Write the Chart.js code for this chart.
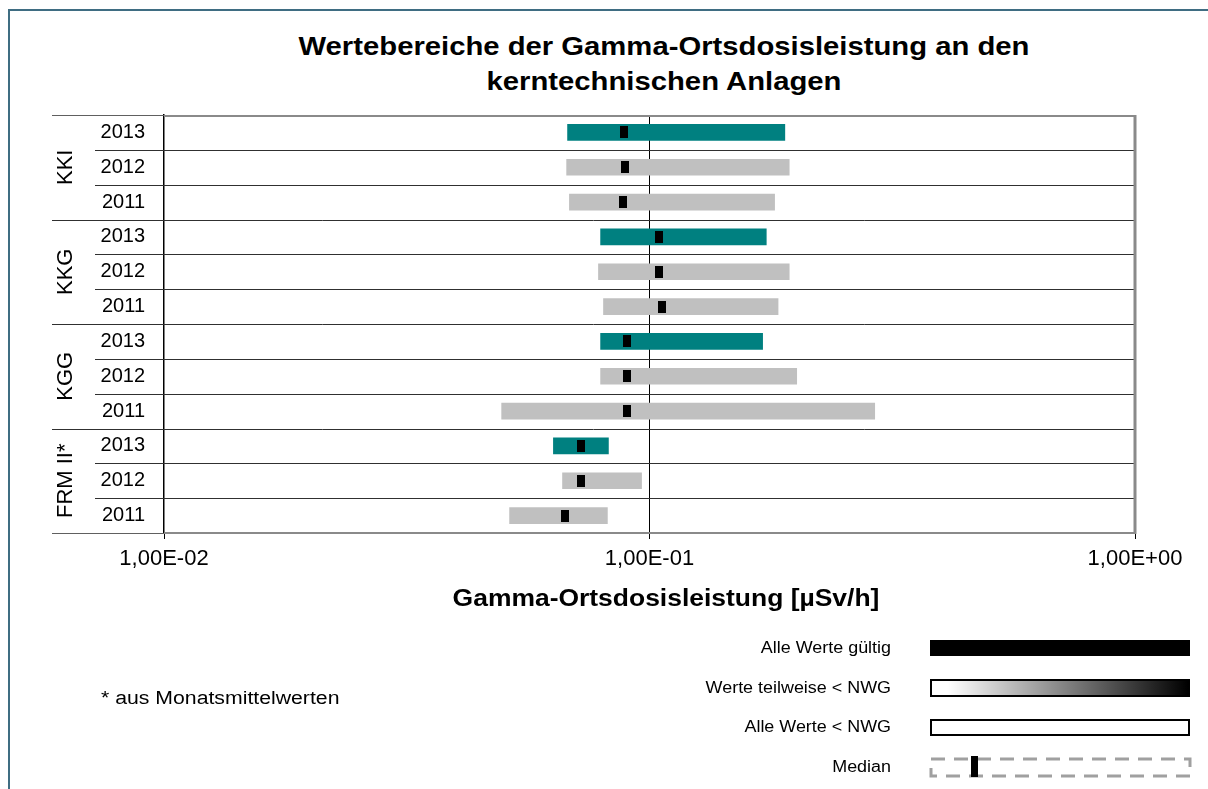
<!DOCTYPE html>
<html>
<head>
<meta charset="utf-8">
<script src="https://cdn.jsdelivr.net/npm/chart.js@4.4.0/dist/chart.umd.min.js"></script>
<style>
  body { margin:0; width:1208px; height:789px; overflow:hidden; background:#fff;
         font-family:"Liberation Sans", Arial, sans-serif; color:#000; position:relative; }
  #frame { position:absolute; left:8px; top:9px; width:1400px; height:1000px; border:2px solid #3f6d82; }
  #wrap { position:absolute; left:0; top:0; width:1208px; height:789px; }
  #title { position:absolute; left:164px; width:1000px; top:29px; text-align:center;
           font-weight:bold; font-size:25px; line-height:35px; transform:scaleX(1.17); transform-origin:500px 0; }
  #xtitle { position:absolute; left:166px; width:1000px; top:584px; text-align:center;
            font-weight:bold; font-size:23px; line-height:28px; transform:scaleX(1.15); transform-origin:500px 0; }
  #note { position:absolute; left:101px; top:687px; font-size:18px; line-height:22px; transform:scaleX(1.18); transform-origin:0 0; }
  .legtxt { position:absolute; left:591px; width:300px; text-align:right; font-size:16px; line-height:20px;
            transform:scaleX(1.12); transform-origin:300px 0; }
  .sw { position:absolute; left:930px; width:260px; box-sizing:border-box; }
</style>
</head>
<body>
<div id="frame"></div>
<div id="title">Wertebereiche der Gamma-Ortsdosisleistung an den<br>kerntechnischen Anlagen</div>
<div id="wrap"><canvas id="myChart"></canvas></div>
<div id="xtitle">Gamma-Ortsdosisleistung [µSv/h]</div>
<div id="note">* aus Monatsmittelwerten</div>

<div class="legtxt" style="top:638px">Alle Werte gültig</div>
<div class="sw" style="top:640px;height:16px;background:#000"></div>
<div class="legtxt" style="top:678px">Werte teilweise &lt; NWG</div>
<div class="sw" style="top:679px;height:18px;border:2px solid #000;background:linear-gradient(to right,#fff 0%,#fff 6%,#000 100%)"></div>
<div class="legtxt" style="top:717px">Alle Werte &lt; NWG</div>
<div class="sw" style="top:719px;height:17px;border:2px solid #000;background:#fff"></div>
<div class="legtxt" style="top:757px">Median</div>
<svg style="position:absolute;left:929px;top:755px" width="264" height="24">
  <rect x="2" y="4" width="259" height="17" fill="none" stroke="#a0a0a0" stroke-width="3" stroke-dasharray="14 9"/>
  <rect x="42" y="1" width="7" height="21" fill="#000"/>
</svg>

<script>
const anlagen = ['KKI', 'KKG', 'KGG', 'FRM II*'];
const jahre = ['2013', '2012', '2011'];

// je Anlage: 2013, 2012, 2011
const minWerte = [0.0678, 0.0675, 0.0684, 0.0793, 0.0785, 0.0804, 0.0793, 0.0793, 0.0496, 0.0634, 0.0662, 0.0515];
const maxWerte = [0.190, 0.194, 0.181, 0.174, 0.194, 0.184, 0.171, 0.201, 0.291, 0.0823, 0.0963, 0.0819];
const medianWerte = [0.0884, 0.0892, 0.0880, 0.1048, 0.1048, 0.1059, 0.0897, 0.0897, 0.0897, 0.0721, 0.0721, 0.0671];

const xTicks = [0.01, 0.1, 1];

const labels = [];
anlagen.forEach(a => jahre.forEach(j => labels.push(j)));

const farben = labels.map(j => j === '2013' ? '#008080' : '#c0c0c0');

function fmtE(v) {
  const e = Math.round(Math.log10(v));
  const m = v / Math.pow(10, e);
  return m.toFixed(2).replace('.', ',') + 'E' + (e < 0 ? '-' : '+') + String(Math.abs(e)).padStart(2, '0');
}

// kleiner schwarzer Balken als Median-Markierung
const medianMarke = document.createElement('canvas');
medianMarke.width = 8;
medianMarke.height = 12;
const mctx = medianMarke.getContext('2d');
mctx.fillStyle = '#000';
mctx.fillRect(0, 0, 8, 12);

const rahmenPlugin = {
  id: 'rahmen',
  beforeDatasetsDraw(chart) {
    const {ctx, chartArea} = chart;
    const ys = chart.scales.y;
    const step = (chartArea.bottom - chartArea.top) / labels.length;
    ctx.save();
    ctx.lineWidth = 1;
    ctx.strokeStyle = '#303030';
    for (let i = 1; i < labels.length; i++) {
      const y = Math.round(chartArea.top + i * step) + 0.5;
      const x0 = (i % 3 === 0) ? 52 : 95;
      ctx.beginPath();
      ctx.moveTo(x0, y);
      ctx.lineTo(chartArea.right, y);
      ctx.stroke();
    }
    // Rahmen oben / unten / rechts
    ctx.strokeStyle = '#606060';
    ctx.beginPath(); ctx.moveTo(52, chartArea.top + 0.5); ctx.lineTo(chartArea.left, chartArea.top + 0.5); ctx.stroke();
    ctx.beginPath(); ctx.moveTo(52, chartArea.bottom + 0.5); ctx.lineTo(chartArea.left, chartArea.bottom + 0.5); ctx.stroke();
    ctx.strokeStyle = '#8a8a8a';
    ctx.lineWidth = 2;
    ctx.beginPath(); ctx.moveTo(chartArea.left, chartArea.top + 1); ctx.lineTo(chartArea.right, chartArea.top + 1); ctx.stroke();
    ctx.beginPath(); ctx.moveTo(chartArea.left, chartArea.bottom); ctx.lineTo(chartArea.right, chartArea.bottom); ctx.stroke();
    ctx.lineWidth = 3;
    ctx.beginPath(); ctx.moveTo(chartArea.right, chartArea.top); ctx.lineTo(chartArea.right, chartArea.bottom + 1); ctx.stroke();

    // Anlagen-Beschriftung, gedreht
    ctx.fillStyle = '#000';
    ctx.font = '22px "Liberation Sans", Arial, sans-serif';
    ctx.textAlign = 'center';
    ctx.textBaseline = 'middle';
    anlagen.forEach((a, g) => {
      const yc = ys.getPixelForValue(g * 3 + 1);
      ctx.save();
      ctx.translate(66, yc);
      ctx.rotate(-Math.PI / 2);
      ctx.fillText(a, 0, 0);
      ctx.restore();
    });
    ctx.restore();
  }
};

const ctx = document.getElementById('myChart');

new Chart(ctx, {
  type: 'bar',
  data: {
    labels: labels,
    datasets: [{
      type: 'line',
      label: 'Median',
      data: medianWerte,
      indexAxis: 'y',
      showLine: false,
      pointStyle: medianMarke,
      pointRadius: 6,
      order: 0
    }, {
      label: 'Wertebereich',
      data: minWerte.map((v, i) => [v, maxWerte[i]]),
      backgroundColor: farben,
      borderWidth: 0,
      barThickness: 16,
      order: 1
    }]
  },
  options: {
    indexAxis: 'y',
    responsive: true,
    maintainAspectRatio: false,
    animation: false,
    layout: {
      padding: {left: 0, right: 73, top: 115, bottom: 216}
    },
    plugins: {
      legend: false,
      tooltip: {enabled: false}
    },
    scales: {
      x: {
        type: 'logarithmic',
        min: 0.01,
        max: 1,
        afterBuildTicks: s => { s.ticks = xTicks.map(v => ({value: v, major: true})); },
        afterFit: s => { s.height = 40; },
        ticks: {
          color: '#000',
          padding: 7,
          maxRotation: 0,
          autoSkip: false,
          font: {family: '"Liberation Sans", Arial, sans-serif', size: 22},
          callback: v => fmtE(v)
        },
        grid: {
          color: c => (c.tick && c.tick.value === 0.1) ? '#000' : 'rgba(0,0,0,0)',
          tickColor: '#000',
          tickLength: 6,
          lineWidth: 1
        },
        border: {display: false}
      },
      y: {
        afterFit: s => { s.width = 164; },
        ticks: {
          color: '#000',
          padding: 19,
          font: {family: '"Liberation Sans", Arial, sans-serif', size: 20}
        },
        grid: {display: false, drawTicks: false},
        border: {display: true, color: '#000', width: 1.5}
      }
    }
  },
  plugins: [rahmenPlugin]
});
</script>
</body>
</html>
